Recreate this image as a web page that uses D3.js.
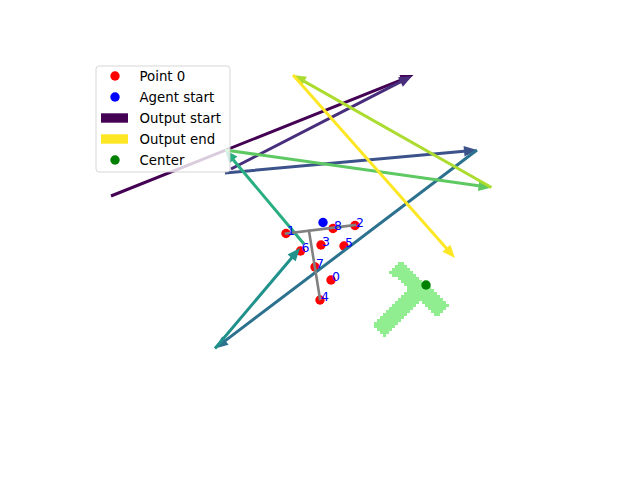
<!DOCTYPE html>
<html><head><meta charset="utf-8">
<script src="https://cdn.jsdelivr.net/npm/d3@7"></script>
<style>body{margin:0;background:#fff}svg{display:block}</style>
</head><body>
<svg id="c" width="640" height="480"></svg>
<script>
// ---- data (workspace units, y grows downward) ----
const pointLabels = ["0","1","2","3","4","5","6","7","8"];
const pointX = [502, 412, 550, 482, 480, 528, 441, 470, 506];
const pointY = [444, 351, 335, 374, 484, 376, 386, 418, 341];
const agentStart = [486, 329];
const center = [692, 454];
// gray skeleton segments [x1,y1,x2,y2]
const skeleton = [[412, 351, 550, 334], [458, 346, 480, 482]];
// output arrows: tail -> head
const arrowX1 = [62, 302, 290, 794, 270, 448, 290, 823, 426];
const arrowY1 = [276, 222, 230, 184, 581, 372, 184, 259, 34];
const arrowX2 = [667, 664, 794, 270, 440, 290, 823, 426, 750];
const arrowY2 = [34, 36, 184, 581, 380, 184, 259, 34, 400];
// T block pose
const tOrigin = [690, 450];
const tAngleDeg = 44;
const tScale = 33;
const tLength = 4;
const tCell = 6;
const legendLabels = ["Point 0", "Agent start", "Output start", "Output end", "Center"];

// ---- scales ----
const x = d3.scaleLinear().domain([0, 992]).range([80, 576]);
const y = d3.scaleLinear().domain([0, 738]).range([58, 427]);
const svg = d3.select("#c");
const font = "DejaVu Sans, Liberation Sans, sans-serif";

// ---- T block raster ----
const a = tAngleDeg * Math.PI / 180;
const dx = Math.cos(a), dy = Math.sin(a), nx = -Math.sin(a), ny = Math.cos(a);
const s = tScale;
const cells = [];
for (let gx = 540; gx <= 860; gx += tCell) {
  for (let gy = 360; gy <= 640; gy += tCell) {
    const px = gx + tCell / 2 - tOrigin[0], py = gy + tCell / 2 - tOrigin[1];
    const u = px * dx + py * dy, v = px * nx + py * ny;
    const bar = Math.abs(u) <= tLength * s / 2 && v >= 0 && v <= s;
    const stem = Math.abs(u) <= s / 2 && v >= s && v <= tLength * s;
    if (bar || stem) cells.push([gx, gy]);
  }
}
svg.append("g").attr("shape-rendering", "crispEdges").selectAll("rect").data(cells).join("rect")
  .attr("x", d => x(d[0])).attr("y", d => y(d[1]))
  .attr("width", x(tCell) - x(0)).attr("height", y(tCell) - y(0))
  .attr("fill", "#90ee90");

// ---- red points ----
const pts = pointX.map((v, i) => ({x: v, y: pointY[i], label: pointLabels[i]}));
svg.append("g").selectAll("circle").data(pts).join("circle")
  .attr("cx", d => x(d.x)).attr("cy", d => y(d.y)).attr("r", 4.7).attr("fill", "#ff0000");
svg.append("circle").attr("cx", x(agentStart[0])).attr("cy", y(agentStart[1])).attr("r", 4.7).attr("fill", "#0000ff");

// ---- arrows ----
const colors = arrowX1.map((_, i) => d3.interpolateViridis(i / (arrowX1.length - 1)));
function arrowPath(x1, y1, x2, y2) {
  const L = Math.hypot(x2 - x1, y2 - y1);
  const ux = (x2 - x1) / L, uy = (y2 - y1) / L, vx = -uy, vy = ux;
  const hl = 13, hw = 5.3, sw = 1.5;
  const bx = x2 - ux * hl, by = y2 - uy * hl;
  const p = [
    [x1 + vx * sw, y1 + vy * sw], [bx + vx * sw, by + vy * sw], [bx + vx * hw, by + vy * hw],
    [x2, y2], [bx - vx * hw, by - vy * hw], [bx - vx * sw, by - vy * sw], [x1 - vx * sw, y1 - vy * sw]
  ];
  return "M" + p.map(q => q[0].toFixed(2) + "," + q[1].toFixed(2)).join("L") + "Z";
}
const arrows = arrowX1.map((v, i) => ({x1: v, y1: arrowY1[i], x2: arrowX2[i], y2: arrowY2[i], c: colors[i]}));
svg.append("g").selectAll("path").data(arrows).join("path")
  .attr("d", d => arrowPath(x(d.x1), y(d.y1), x(d.x2), y(d.y2)))
  .attr("fill", d => d.c);

// ---- skeleton ----
svg.append("g").selectAll("line").data(skeleton).join("line")
  .attr("x1", d => x(d[0])).attr("y1", d => y(d[1])).attr("x2", d => x(d[2])).attr("y2", d => y(d[3]))
  .attr("stroke", "#808080").attr("stroke-width", 2.6).attr("stroke-linecap", "square");

// ---- labels ----
svg.append("g").selectAll("text").data(pts).join("text")
  .attr("x", d => x(d.x) + 1).attr("y", d => y(d.y) + 1)
  .attr("font-family", font).attr("font-size", 12.5).attr("fill", "#0000ff")
  .text(d => d.label);

// ---- center ----
svg.append("circle").attr("cx", x(center[0])).attr("cy", y(center[1])).attr("r", 4.7).attr("fill", "#008000");

// ---- legend ----
const lg = svg.append("g");
lg.append("rect").attr("x", 96).attr("y", 66).attr("width", 134).attr("height", 106).attr("rx", 3)
  .attr("fill", "#fff").attr("fill-opacity", 0.8).attr("stroke", "#cccccc").attr("stroke-opacity", 0.8);
const rows = [76, 97, 118, 139, 160];
const kinds = [["c", "#ff0000"], ["c", "#0000ff"], ["r", colors[0]], ["r", colors[colors.length - 1]], ["c", "#008000"]];
rows.forEach((ry, i) => {
  const [k, col] = kinds[i];
  if (k === "c") lg.append("circle").attr("cx", 115).attr("cy", ry).attr("r", 4.7).attr("fill", col);
  else lg.append("rect").attr("x", 101).attr("y", ry - 4.7).attr("width", 27).attr("height", 9.4).attr("fill", col);
  lg.append("text").attr("x", 139.5).attr("y", ry + 4.8).attr("font-family", font).attr("font-size", 13.33)
    .attr("fill", "#000").text(legendLabels[i]);
});
</script>
</body></html>
